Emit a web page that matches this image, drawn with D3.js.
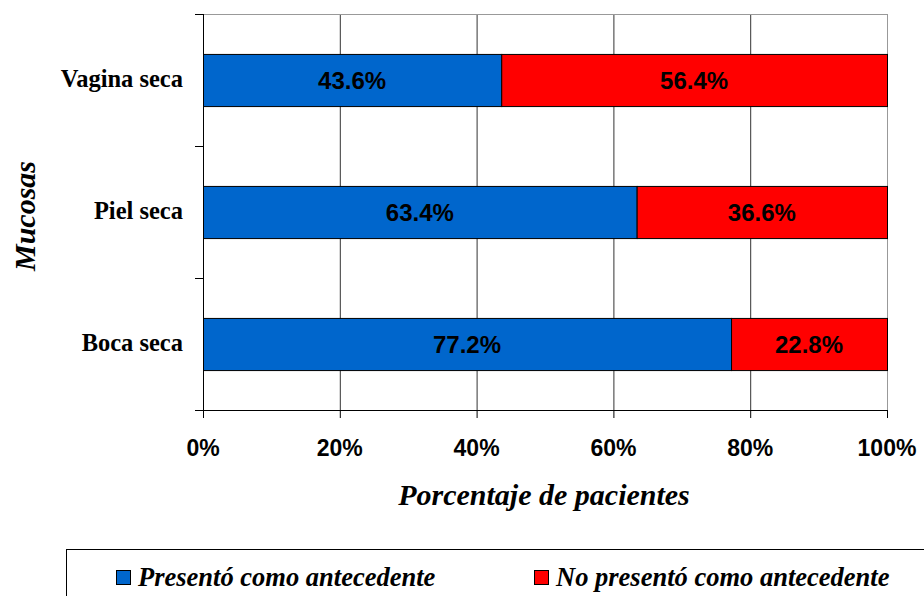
<!DOCTYPE html>
<html>
<head>
<meta charset="utf-8">
<script src="https://cdn.jsdelivr.net/npm/d3@7"></script>
<style>
  body { margin: 0; background: #fff; }
  svg { display: block; }
</style>
</head>
<body>
<svg id="chart" width="924" height="596"></svg>
<script>
// Categories top to bottom and stacked shares
const categories = ["Vagina seca", "Piel seca", "Boca seca"];
const presento = [43.6, 63.4, 77.2];
const noPresento = [56.4, 36.6, 22.8];
const seriesNames = ["Presentó como antecedente", "No presentó como antecedente"];
const seriesColors = ["#0066CC", "#FF0000"];
const xTicks = [0, 20, 40, 60, 80, 100];

const svg = d3.select("#chart");
const m = { left: 203, top: 14, right: 887, bottom: 410 };
const sans = "Liberation Sans, Arial, sans-serif";
const serif = "Liberation Serif, Times New Roman, serif";

const x = d3.scaleLinear().domain([0, 100]).range([m.left, m.right]);
const y = d3.scaleBand().domain(categories).range([m.top, m.bottom]);
const barH = y.bandwidth() * 0.395;

// Vertical gridlines
svg.append("g").selectAll("line").data(xTicks.slice(1, -1)).join("line")
  .attr("x1", d => x(d) + 0.5).attr("x2", d => x(d) + 0.5)
  .attr("y1", m.top).attr("y2", m.bottom)
  .attr("stroke", "#333").attr("stroke-width", 1);

// Plot frame: top and right in grey
svg.append("line").attr("x1", m.left).attr("x2", m.right).attr("y1", m.top + 0.5).attr("y2", m.top + 0.5)
  .attr("stroke", "#999");
svg.append("line").attr("x1", m.right + 0.5).attr("x2", m.right + 0.5).attr("y1", m.top).attr("y2", m.bottom)
  .attr("stroke", "#999");

// Stacked bars
const rows = categories.map((c, i) => ({ cat: c, vals: [presento[i], noPresento[i]] }));
rows.forEach(r => {
  let acc = 0;
  r.vals.forEach((v, j) => {
    const x0 = acc, x1 = acc + v;
    const cy = y(r.cat) + y.bandwidth() / 2;
    svg.append("rect")
      .attr("x", x(x0) + 0.5).attr("y", cy - barH / 2 + 0.5)
      .attr("width", x(x1) - x(x0)).attr("height", barH)
      .attr("fill", seriesColors[j]).attr("stroke", "#000").attr("stroke-width", 1);
    svg.append("text")
      .attr("x", (x(x0) + x(x1)) / 2).attr("y", cy + 8.5)
      .attr("text-anchor", "middle")
      .attr("font-family", sans)
      .attr("font-weight", "bold").attr("font-size", 24)
      .text(v.toFixed(1) + "%");
    acc = x1;
  });
});

// Left axis with category ticks at band boundaries
const yEdges = categories.map(c => y(c)).concat([m.bottom]);
svg.append("line").attr("x1", m.left + 0.5).attr("x2", m.left + 0.5).attr("y1", m.top).attr("y2", m.bottom)
  .attr("stroke", "#000");
svg.append("g").selectAll("line").data(yEdges).join("line")
  .attr("x1", m.left - 8).attr("x2", m.left).attr("y1", d => d + 0.5).attr("y2", d => d + 0.5)
  .attr("stroke", "#000");
svg.append("g").selectAll("text").data(categories).join("text")
  .attr("x", m.left - 20).attr("y", d => y(d) + y.bandwidth() / 2 + 7)
  .attr("text-anchor", "end")
  .attr("font-family", serif)
  .attr("font-weight", "bold").attr("font-size", 24.5)
  .text(d => d);

// Bottom axis
svg.append("line").attr("x1", m.left - 8).attr("x2", m.right).attr("y1", m.bottom + 0.5).attr("y2", m.bottom + 0.5)
  .attr("stroke", "#000");
svg.append("g").selectAll("line").data(xTicks).join("line")
  .attr("x1", d => x(d) + 0.5).attr("x2", d => x(d) + 0.5).attr("y1", m.bottom).attr("y2", m.bottom + 8)
  .attr("stroke", "#000");
svg.append("g").selectAll("text").data(xTicks).join("text")
  .attr("x", d => x(d)).attr("y", 456)
  .attr("text-anchor", "middle")
  .attr("font-family", sans)
  .attr("font-weight", "bold").attr("font-size", 23)
  .text(d => d + "%");

// Axis titles
svg.append("text").attr("x", 544).attr("y", 505).attr("text-anchor", "middle")
  .attr("font-family", serif)
  .attr("font-weight", "bold").attr("font-style", "italic").attr("font-size", 30)
  .text("Porcentaje de pacientes");
svg.append("text").attr("transform", "translate(35,216) rotate(-90)").attr("text-anchor", "middle")
  .attr("font-family", serif)
  .attr("font-weight", "bold").attr("font-style", "italic").attr("font-size", 30)
  .text("Mucosas");

// Legend
svg.append("rect").attr("x", 66.5).attr("y", 549.5).attr("width", 900).attr("height", 100)
  .attr("fill", "none").attr("stroke", "#000");
const legX = [116, 534];
seriesNames.forEach((n, i) => {
  svg.append("rect").attr("x", legX[i] + 0.5).attr("y", 570.5).attr("width", 14).attr("height", 14)
    .attr("fill", seriesColors[i]).attr("stroke", "#000");
  svg.append("text").attr("x", legX[i] + 22).attr("y", 586)
    .attr("font-family", serif)
    .attr("font-weight", "bold").attr("font-style", "italic").attr("font-size", 26.5)
    .text(n);
});
</script>
</body>
</html>
